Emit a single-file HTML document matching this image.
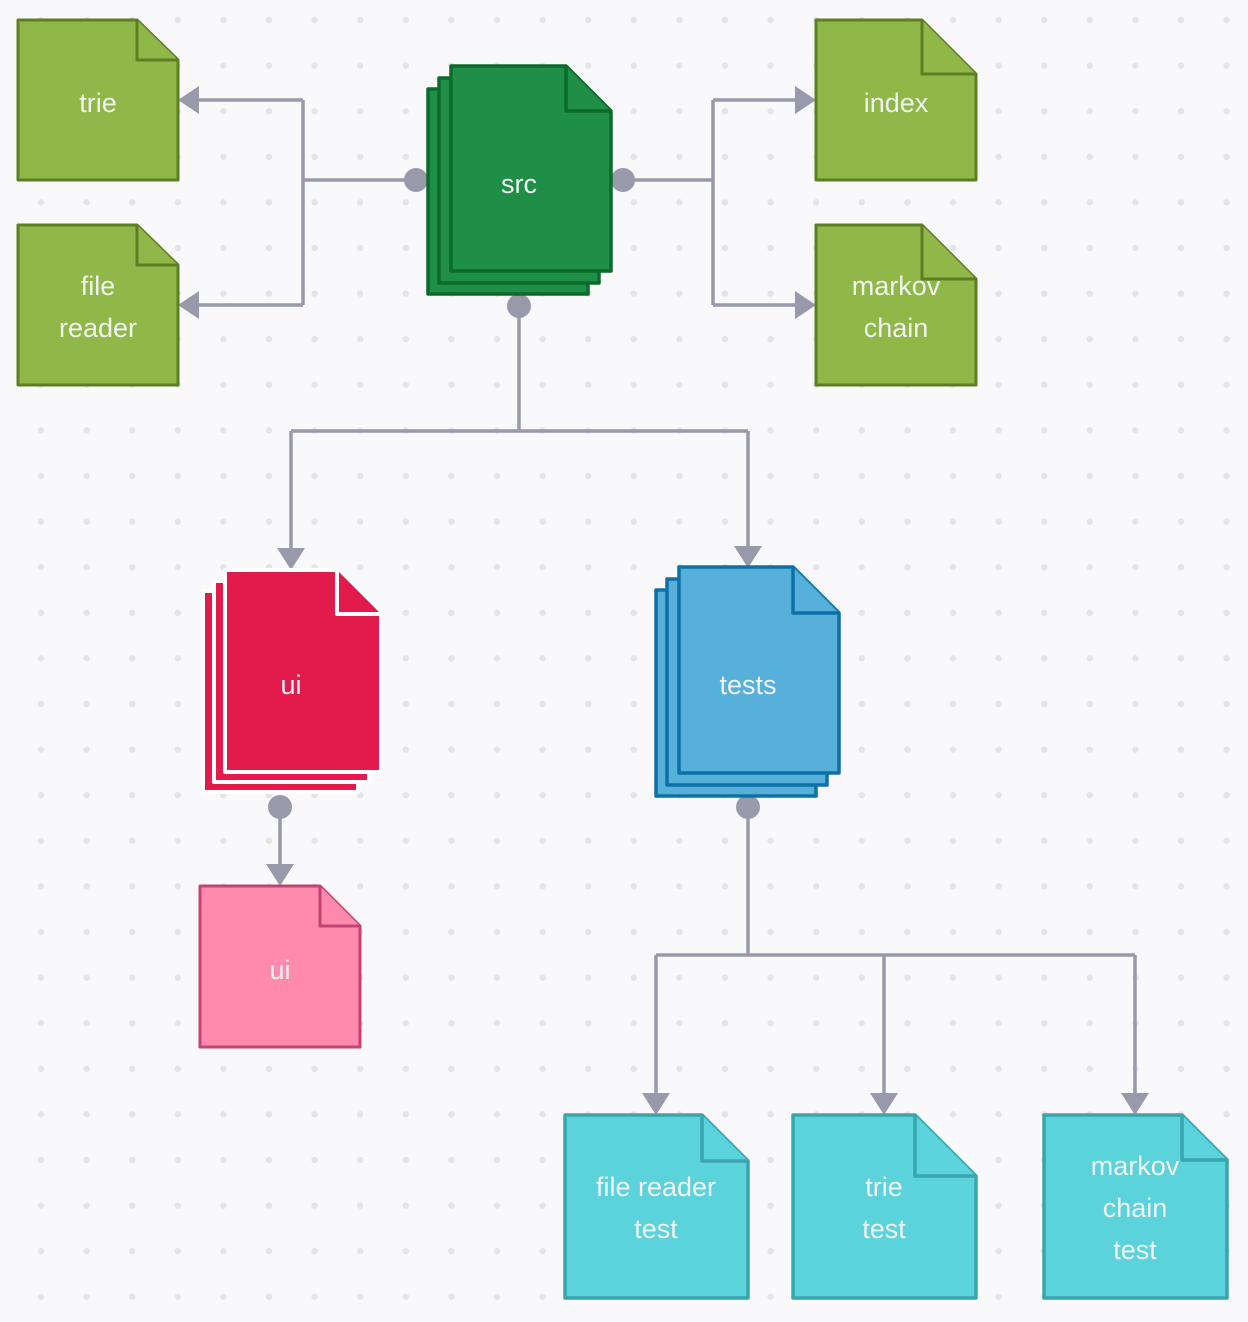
<!DOCTYPE html>
<html><head><meta charset="utf-8"><style>
html,body{margin:0;padding:0;background:#f9f9fb;}
svg{display:block;}
text{font-family:"Liberation Sans",sans-serif;font-size:27px;fill:#f2f2f2;text-anchor:middle;}
</style></head><body>
<svg width="1248" height="1322" viewBox="0 0 1248 1322" xmlns="http://www.w3.org/2000/svg">
<defs>
<pattern id="dots" x="41" y="20" width="45.6" height="45.6" patternUnits="userSpaceOnUse">
<circle cx="0" cy="0" r="3.2" fill="#e3e3e8"/>
<circle cx="45.6" cy="0" r="3.2" fill="#e3e3e8"/>
<circle cx="0" cy="45.6" r="3.2" fill="#e3e3e8"/>
<circle cx="45.6" cy="45.6" r="3.2" fill="#e3e3e8"/>
</pattern>
</defs>
<rect x="0" y="0" width="1248" height="1322" fill="url(#dots)"/>

<!-- connectors -->
<g stroke="#9899ab" stroke-width="3.5" fill="none">
<path d="M416 180 H303 M303 100 V305 M303 100 H195 M303 305 H195"/>
<path d="M623 180 H713 M713 100 V305 M713 100 H800 M713 305 H800"/>
<path d="M519 306 V431 M291 431 H748 M291 431 V552 M748 431 V550"/>
<path d="M280 807 V868"/>
<path d="M748 807 V955 M656 955 H1135 M656 955 V1097 M884 955 V1097 M1135 955 V1097"/>
</g>
<g fill="#9899ab">
<circle cx="416" cy="180" r="12"/><circle cx="623" cy="180" r="12"/><circle cx="519" cy="306" r="12"/>
<circle cx="280" cy="807" r="12"/><circle cx="748" cy="807" r="12"/>
<polygon points="178,100 199,86 199,114"/>
<polygon points="178,305 199,291 199,319"/>
<polygon points="816,100 795,86 795,114"/>
<polygon points="816,305 795,291 795,319"/>
<polygon points="291,570 277,548 305,548"/>
<polygon points="748,568 734,546 762,546"/>
<polygon points="280,886 266,864 294,864"/>
<polygon points="656,1115 642,1093 670,1093"/>
<polygon points="884,1115 870,1093 898,1093"/>
<polygon points="1135,1115 1121,1093 1149,1093"/>
</g>

<!-- green leaves -->
<g fill="#8fb848" stroke="#5d7f24" stroke-width="3" stroke-linejoin="round">
<path d="M18 20 H137 L178 60 V180 H18 Z"/><path d="M137 20 V60 H178"/>
<path d="M18 225 H137 L178 265 V385 H18 Z"/><path d="M137 225 V265 H178"/>
<path d="M816 20 H922 L976 74 V180 H816 Z"/><path d="M922 20 V74 H976"/>
<path d="M816 225 H922 L976 279 V385 H816 Z"/><path d="M922 225 V279 H976"/>
</g>
<text x="98" y="112">trie</text>
<text x="98" y="295">file</text><text x="98" y="337">reader</text>
<text x="896" y="112">index</text>
<text x="896" y="295">markov</text><text x="896" y="337">chain</text>

<!-- src stack -->
<g fill="#1f8f47" stroke="#0a6b2a" stroke-width="3.5" stroke-linejoin="round">
<path d="M428 89 H543 L588 134 V294 H428 Z"/>
<path d="M439 78 H554 L599 123 V283 H439 Z"/>
<path d="M451 66 H566 L611 111 V271 H451 Z"/><path d="M566 66 V111 H611"/>
</g>
<text x="519" y="193">src</text>

<!-- ui stack -->
<g fill="#e31b4c" stroke="#ffffff" stroke-width="4" stroke-linejoin="round">
<path d="M203 591 H315 L358 634 V792 H203 Z"/>
<path d="M214 581 H326 L369 624 V782 H214 Z"/>
<path d="M225 570 H337 L381 614 V772 H225 Z"/><path d="M337 570 V614 H381"/>
</g>
<text x="291" y="694">ui</text>

<!-- tests stack -->
<g fill="#57b0d9" stroke="#0f70a8" stroke-width="3.5" stroke-linejoin="round">
<path d="M656 590 H770 L816 636 V796 H656 Z"/>
<path d="M667 579 H781 L827 625 V785 H667 Z"/>
<path d="M679 567 H793 L839 613 V773 H679 Z"/><path d="M793 567 V613 H839"/>
</g>
<text x="748" y="694">tests</text>

<!-- ui small -->
<g fill="#ff8aae" stroke="#c24470" stroke-width="3" stroke-linejoin="round">
<path d="M200 886 H320 L360 926 V1047 H200 Z"/><path d="M320 886 V926 H360"/>
</g>
<text x="280" y="979">ui</text>

<!-- test leaves -->
<g fill="#5bd3db" stroke="#3ba5ad" stroke-width="3.5" stroke-linejoin="round">
<path d="M565 1115 H702 L748 1161 V1298 H565 Z"/><path d="M702 1115 V1161 H748"/>
<path d="M793 1115 H915 L976 1176 V1298 H793 Z"/><path d="M915 1115 V1176 H976"/>
<path d="M1044 1115 H1182 L1227 1160 V1298 H1044 Z"/><path d="M1182 1115 V1160 H1227"/>
</g>
<text x="656" y="1196">file reader</text><text x="656" y="1238">test</text>
<text x="884" y="1196">trie</text><text x="884" y="1238">test</text>
<text x="1135" y="1175">markov</text><text x="1135" y="1217">chain</text><text x="1135" y="1259">test</text>
</svg>
</body></html>
